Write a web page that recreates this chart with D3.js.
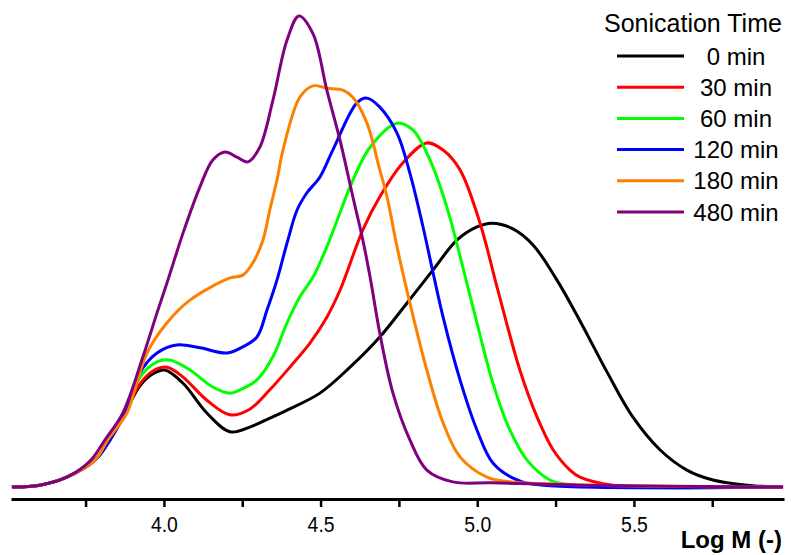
<!DOCTYPE html>
<html>
<head>
<meta charset="utf-8">
<script src="https://cdn.jsdelivr.net/npm/d3@7"></script>
<style>
  body { margin: 0; background: #fff; }
  svg { display: block; font-family: Arial, "Liberation Sans", sans-serif; }
</style>
</head>
<body>
<svg id="chart" width="791" height="555"></svg>
<script>
// [log M, intensity %]
var min0 = [[3.515,0.2],[3.604,0.6],[3.690,2.3],[3.780,5.9],[3.828,10.2],[3.876,15.9],[3.923,21.6],[3.965,24.2],
  [4.003,25.0],[4.061,22.2],[4.137,15.9],[4.211,11.9],[4.274,12.9],[4.338,14.8],[4.393,16.5],[4.498,20.1],
  [4.594,25.6],[4.689,32.0],[4.776,39.2],[4.859,46.2],[4.935,52.5],[4.999,55.3],[5.047,56.1],[5.114,54.9],
  [5.178,51.5],[5.254,44.1],[5.328,35.4],[5.414,24.6],[5.497,15.0],[5.583,8.1],[5.669,3.8],[5.752,1.7],
  [5.861,0.6],[5.976,0.2]];
var min30 = [[3.515,0.2],[3.604,0.6],[3.690,2.3],[3.780,5.9],[3.828,10.2],[3.876,15.9],[3.923,22.0],[3.965,24.8],
  [4.010,25.6],[4.061,23.5],[4.137,18.6],[4.211,15.5],[4.274,16.7],[4.338,20.8],[4.402,25.6],[4.466,30.7],
  [4.520,36.2],[4.562,41.9],[4.635,54.7],[4.689,61.7],[4.763,68.9],[4.839,73.1],[4.891,71.6],[4.945,67.4],
  [5.009,56.1],[5.063,42.6],[5.136,25.0],[5.191,15.0],[5.242,8.1],[5.296,3.8],[5.328,2.3],[5.433,0.6],[5.976,0.2]];
var min60 = [[3.515,0.2],[3.604,0.6],[3.690,2.3],[3.780,5.9],[3.828,10.2],[3.876,15.9],[3.923,23.4],[3.978,26.7],
  [4.019,27.1],[4.083,25.0],[4.156,21.4],[4.211,20.1],[4.243,20.8],[4.297,22.9],[4.348,27.8],[4.393,35.0],
  [4.434,40.5],[4.476,44.7],[4.520,51.1],[4.562,58.3],[4.594,63.8],[4.658,72.2],[4.744,77.3],[4.795,75.8],
  [4.849,69.5],[4.903,59.5],[4.954,46.8],[4.999,35.0],[5.050,22.2],[5.104,12.3],[5.159,5.9],[5.232,1.7],
  [5.305,0.6],[5.976,0.2]];
var min120 = [[3.515,0.2],[3.604,0.6],[3.690,2.3],[3.780,5.9],[3.828,10.2],[3.876,15.9],[3.923,24.4],[3.978,28.6],
  [4.041,30.3],[4.115,29.7],[4.201,28.6],[4.252,29.9],[4.297,32.0],[4.329,37.7],[4.361,44.1],[4.393,51.9],
  [4.425,58.9],[4.456,62.5],[4.498,65.9],[4.539,71.6],[4.616,81.6],[4.648,82.6],[4.689,80.7],[4.744,75.2],
  [4.785,66.7],[4.827,55.3],[4.859,45.6],[4.891,36.2],[4.945,22.9],[4.999,12.3],[5.050,5.3],[5.127,1.7],
  [5.210,0.6],[5.976,0.2]];
var min180 = [[3.515,0.2],[3.604,0.6],[3.690,2.3],[3.780,5.9],[3.821,10.2],[3.882,15.9],[3.907,20.8],[3.946,28.6],
  [4.010,35.0],[4.083,39.8],[4.211,44.5],[4.252,45.1],[4.284,47.7],[4.316,52.5],[4.338,58.9],[4.361,65.3],
  [4.380,71.6],[4.434,82.8],[4.476,85.2],[4.520,84.7],[4.571,84.3],[4.603,82.8],[4.648,77.3],[4.689,67.4],
  [4.712,61.7],[4.744,51.1],[4.785,39.2],[4.839,25.0],[4.891,13.8],[4.945,6.6],[5.031,2.3],[5.104,1.3],
  [5.392,0.6],[5.976,0.2]];
var min480 = [[3.515,0.2],[3.604,0.6],[3.690,2.3],[3.764,5.7],[3.812,10.2],[3.869,15.9],[3.933,27.8],[3.978,37.1],
  [4.013,44.1],[4.061,54.0],[4.115,63.8],[4.156,69.5],[4.195,71.2],[4.233,70.1],[4.268,69.1],[4.306,72.2],
  [4.348,82.2],[4.393,94.9],[4.431,100],[4.476,96.2],[4.520,84.3],[4.562,73.7],[4.603,61.7],[4.635,52.5],
  [4.658,44.7],[4.689,32.8],[4.731,20.1],[4.785,10.2],[4.839,3.8],[4.922,1.3],[5.050,1.1],[5.328,0.6],[5.976,0.2]];

var seriesNames = ["0 min", "30 min", "60 min", "120 min", "180 min", "480 min"];
var seriesColors = ["#000000", "#ff0000", "#00ff00", "#0000ff", "#ff8000", "#800080"];
var seriesData = [min0, min30, min60, min120, min180, min480];
var legendTitle = "Sonication Time";
var xTicks = [3.75, 4.0, 4.25, 4.5, 4.75, 5.0, 5.25, 5.5, 5.75];
var xLabel = "Log M (-)";

var svg = d3.select("#chart");

var x = d3.scaleLinear().domain([3.512, 5.979]).range([11, 784]);
var y = d3.scaleLinear().domain([0, 100]).range([488, 16]);

var line = d3.line()
  .x(function(d) { return x(d[0]); })
  .y(function(d) { return y(d[1]); })
  .curve(d3.curveCatmullRom.alpha(0.5));

svg.append("g").selectAll("path")
  .data(seriesData)
  .enter().append("path")
  .attr("d", line)
  .style("fill", "none")
  .style("stroke", function(d, i) { return seriesColors[i]; })
  .style("stroke-width", 3)
  .style("stroke-linejoin", "round");

// x axis, all ticks same length, labels only on the half units
var xAxis = d3.axisBottom(x)
  .tickValues(xTicks)
  .tickSize(8)
  .tickSizeOuter(0)
  .tickPadding(9)
  .tickFormat(function(v) { return (v * 2) % 1 === 0 ? d3.format(".1f")(v) : ""; });

var gx = svg.append("g")
  .attr("transform", "translate(0,499)")
  .call(xAxis);
gx.select(".domain").style("stroke", "#000").style("stroke-width", 3);
gx.selectAll(".tick line").style("stroke", "#000").style("stroke-width", 2.5);
gx.selectAll(".tick text")
  .style("font-size", "22px")
  .style("font-family", "Arial, 'Liberation Sans', sans-serif")
  .style("fill", "#000")
  .each(function() {
    // labels in the figure are a little narrow
    var w = this.getComputedTextLength();
    if (w > 0) d3.select(this).attr("textLength", w * 0.88).attr("lengthAdjust", "spacingAndGlyphs");
  });

svg.append("text")
  .attr("x", 782)
  .attr("y", 548)
  .attr("text-anchor", "end")
  .style("font-size", "24px")
  .style("font-weight", "bold")
  .text(xLabel);

// legend
var legend = svg.append("g");
legend.append("text")
  .attr("x", 604)
  .attr("y", 32)
  .style("font-size", "25px")
  .text(legendTitle);

var rows = legend.selectAll("g.row")
  .data(seriesNames)
  .enter().append("g")
  .attr("class", "row")
  .attr("transform", function(d, i) { return "translate(0," + (56 + i * 31.2) + ")"; });

rows.append("line")
  .attr("x1", 617).attr("x2", 684)
  .attr("y1", 0).attr("y2", 0)
  .style("stroke", function(d, i) { return seriesColors[i]; })
  .style("stroke-width", 3);

rows.append("text")
  .attr("x", 736)
  .attr("y", 8.5)
  .attr("text-anchor", "middle")
  .style("font-size", "24px")
  .text(function(d) { return d; });
</script>
</body>
</html>
